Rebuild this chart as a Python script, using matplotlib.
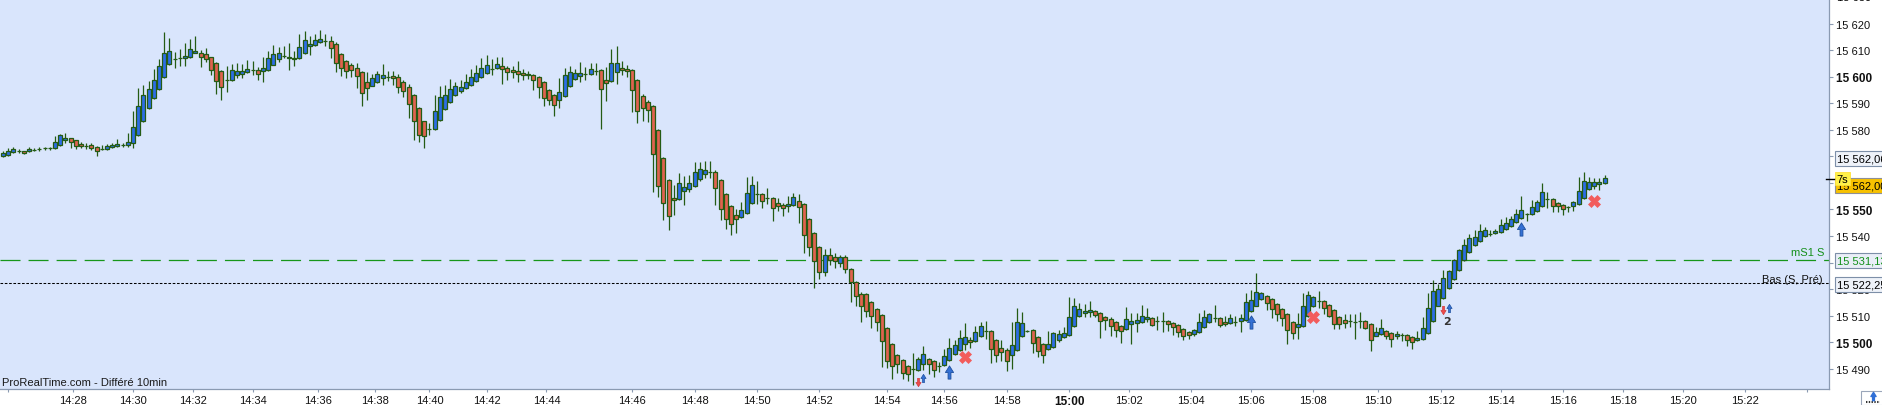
import numpy as np
import matplotlib.pyplot as plt
from matplotlib.path import Path
from matplotlib.patches import Rectangle

plt.rcParams['lines.scale_dashes'] = False

# OHLC of each bar (DAX-style index, tick bars)
opens = [
    15570.0, 15570.7, 15571.5, 15572.1, 15571.9, 15571.9, 15572.4, 15572.8, 15573.0, 15573.0,
    15573.0, 15574.1, 15576.0, 15576.8, 15576.0, 15574.8, 15574.0, 15574.1, 15573.4, 15572.9,
    15572.8, 15573.4, 15573.8, 15574.3, 15574.1, 15574.9, 15577.9, 15583.2, 15588.1, 15591.8,
    15595.2, 15599.7, 15604.6, 15606.6, 15606.9, 15606.9, 15607.4, 15608.8, 15609.1, 15608.4,
    15607.3, 15605.0, 15602.0, 15598.9, 15598.6, 15600.5, 15601.2, 15601.6, 15602.5, 15602.7,
    15602.0, 15602.4, 15604.5, 15606.5, 15607.9, 15607.5, 15607.1, 15606.9, 15608.8, 15611.4,
    15611.9, 15612.9, 15613.4, 15613.3, 15612.2, 15608.4, 15605.8, 15604.3, 15603.1, 15601.6,
    15597.9, 15596.6, 15597.9, 15599.4, 15600.0, 15600.1, 15599.7, 15597.9, 15596.3, 15593.0,
    15588.1, 15583.2, 15580.2, 15580.2, 15583.6, 15587.7, 15590.4, 15593.0, 15594.7, 15595.6,
    15596.8, 15598.3, 15599.8, 15601.3, 15603.0, 15603.2, 15603.9, 15603.2, 15602.4, 15602.0,
    15601.3, 15600.9, 15600.5, 15599.8, 15597.9, 15594.9, 15593.0, 15591.1, 15592.6, 15596.4,
    15599.0, 15600.1, 15600.9, 15600.9, 15602.2, 15602.4, 15598.6, 15598.3, 15601.7, 15603.2,
    15602.8, 15602.4, 15598.6, 15592.6, 15590.4, 15588.9, 15579.8, 15569.3, 15561.0, 15554.2,
    15553.8, 15556.8, 15557.6, 15558.7, 15561.4, 15563.2, 15564.3, 15564.0, 15561.0, 15555.7,
    15551.2, 15547.8, 15547.1, 15548.6, 15552.3, 15555.7, 15555.7, 15554.2, 15554.2, 15552.3,
    15551.6, 15551.2, 15551.6, 15553.1, 15551.9, 15546.3, 15541.0, 15535.8, 15526.5, 15533.0,
    15532.0, 15530.0, 15532.0, 15527.6, 15522.6, 15518.2, 15518.1, 15515.1, 15512.4, 15510.2,
    15505.3, 15499.2, 15495.1, 15493.2, 15491.0, 15489.8, 15489.4, 15491.7, 15493.6, 15492.8,
    15491.2, 15491.3, 15493.2, 15495.5, 15497.0, 15499.2, 15500.7, 15500.4, 15502.2, 15504.1,
    15504.1, 15500.7, 15497.7, 15497.0, 15495.1, 15497.0, 15502.2, 15504.3, 15504.5, 15501.9,
    15499.2, 15497.4, 15498.1, 15500.7, 15501.9, 15502.6, 15506.0, 15509.8, 15510.9, 15511.3,
    15511.7, 15510.9, 15509.4, 15508.7, 15507.5, 15506.0, 15504.9, 15506.8, 15507.1, 15507.5,
    15508.7, 15509.0, 15507.9, 15507.9, 15507.9, 15507.1, 15506.4, 15504.9, 15503.8, 15503.0,
    15503.8, 15505.6, 15507.5, 15509.0, 15509.0, 15507.5, 15507.1, 15507.8, 15507.9, 15508.3,
    15511.6, 15513.8, 15516.2, 15517.3, 15516.2, 15514.3, 15512.4, 15510.5, 15507.5, 15505.6,
    15506.0, 15509.8, 15513.5, 15515.4, 15515.4, 15513.9, 15512.0, 15509.4, 15508.3, 15507.9,
    15507.8, 15507.9, 15507.9, 15506.8, 15502.2, 15503.0, 15504.1, 15503.4, 15502.2, 15502.9,
    15502.6, 15501.9, 15500.7, 15501.1, 15503.4, 15507.9, 15513.5, 15516.5, 15520.3, 15523.7,
    15527.1, 15530.8, 15533.9, 15536.5, 15538.0, 15539.9, 15540.9, 15541.0, 15541.4, 15542.5,
    15543.6, 15545.2, 15546.7, 15548.2, 15548.2, 15549.3, 15551.2, 15553.8, 15553.8, 15552.3,
    15551.6, 15550.8, 15551.2, 15551.9, 15554.2, 15557.6, 15558.7, 15559.5, 15559.8,
]
highs = [
    15572.1, 15573.0, 15573.4, 15572.7, 15572.1, 15573.4, 15573.0, 15573.5, 15573.6, 15573.5,
    15577.5, 15578.4, 15578.7, 15577.1, 15576.0, 15575.5, 15575.0, 15574.9, 15574.0, 15574.3,
    15574.6, 15575.0, 15576.5, 15575.0, 15578.8, 15587.1, 15595.7, 15596.9, 15598.4, 15602.9,
    15606.6, 15616.7, 15614.5, 15609.4, 15610.4, 15612.7, 15614.2, 15615.2, 15610.0, 15610.7,
    15607.6, 15605.6, 15602.6, 15604.1, 15604.9, 15605.1, 15604.8, 15606.1, 15605.8, 15603.8,
    15607.6, 15609.8, 15611.9, 15611.2, 15611.4, 15612.7, 15609.6, 15616.1, 15617.1, 15615.2,
    15616.2, 15617.6, 15616.1, 15615.2, 15612.9, 15609.1, 15606.4, 15605.0, 15605.1, 15602.2,
    15601.6, 15601.0, 15602.2, 15604.6, 15602.1, 15602.1, 15601.0, 15598.7, 15597.2, 15593.5,
    15588.5, 15583.5, 15582.6, 15593.1, 15596.5, 15596.8, 15599.0, 15598.1, 15598.6, 15600.9,
    15602.8, 15604.3, 15607.0, 15608.2, 15606.7, 15607.4, 15607.4, 15603.9, 15603.9, 15605.9,
    15602.8, 15602.0, 15600.9, 15600.1, 15598.3, 15595.2, 15593.4, 15599.4, 15603.3, 15603.9,
    15602.8, 15605.5, 15603.5, 15605.2, 15605.2, 15602.8, 15603.5, 15610.4, 15611.6, 15605.8,
    15604.3, 15602.8, 15599.0, 15593.4, 15591.1, 15589.2, 15580.2, 15569.6, 15561.4, 15559.4,
    15563.6, 15562.5, 15562.9, 15567.8, 15567.8, 15568.1, 15568.1, 15564.8, 15561.4, 15556.1,
    15551.6, 15550.1, 15552.7, 15562.1, 15562.6, 15560.6, 15556.1, 15558.0, 15554.6, 15554.2,
    15552.3, 15555.0, 15556.1, 15555.7, 15552.3, 15546.7, 15541.4, 15536.1, 15535.0, 15535.5,
    15533.5, 15533.0, 15533.0, 15528.0, 15523.0, 15519.0, 15518.4, 15515.4, 15512.8, 15510.6,
    15505.7, 15499.6, 15495.5, 15493.6, 15491.4, 15496.0, 15494.3, 15498.5, 15494.0, 15493.2,
    15492.5, 15497.4, 15501.5, 15500.7, 15504.5, 15507.3, 15501.9, 15506.0, 15507.5, 15507.9,
    15504.5, 15501.1, 15500.7, 15497.7, 15507.5, 15512.8, 15511.3, 15504.5, 15504.9, 15502.2,
    15499.6, 15504.3, 15503.8, 15504.5, 15505.6, 15517.1, 15516.6, 15514.7, 15514.3, 15515.4,
    15512.0, 15511.3, 15509.8, 15509.4, 15507.9, 15506.4, 15513.2, 15510.9, 15510.9, 15514.0,
    15512.8, 15509.4, 15510.0, 15511.3, 15508.3, 15507.5, 15506.8, 15505.3, 15504.1, 15504.9,
    15510.9, 15512.0, 15510.9, 15513.9, 15509.4, 15509.8, 15510.5, 15510.0, 15510.5, 15518.4,
    15519.6, 15526.1, 15518.8, 15517.7, 15516.5, 15514.7, 15512.8, 15510.9, 15507.9, 15511.1,
    15518.4, 15519.2, 15517.3, 15519.2, 15515.8, 15514.3, 15512.4, 15509.8, 15510.5, 15510.5,
    15510.5, 15511.3, 15508.3, 15507.1, 15505.6, 15508.6, 15504.5, 15503.7, 15504.1, 15503.4,
    15503.0, 15502.2, 15504.1, 15509.4, 15518.4, 15523.3, 15521.8, 15527.1, 15527.1, 15531.2,
    15535.0, 15538.8, 15540.6, 15542.1, 15544.4, 15543.3, 15542.1, 15542.5, 15546.3, 15547.0,
    15547.4, 15550.0, 15554.9, 15548.6, 15553.4, 15553.4, 15559.8, 15556.5, 15554.2, 15552.7,
    15551.9, 15551.2, 15553.1, 15562.1, 15564.0, 15562.1, 15561.7, 15561.7, 15563.0,
]
lows = [
    15569.6, 15570.2, 15571.1, 15571.3, 15571.0, 15571.7, 15572.0, 15571.9, 15572.3, 15572.3,
    15572.9, 15573.9, 15575.0, 15573.3, 15572.8, 15573.3, 15572.8, 15572.4, 15570.2, 15572.4,
    15572.4, 15573.1, 15573.5, 15573.5, 15573.6, 15573.0, 15577.7, 15582.9, 15587.8, 15591.6,
    15595.1, 15599.5, 15604.5, 15603.1, 15604.1, 15603.9, 15607.0, 15608.8, 15603.8, 15605.4,
    15600.7, 15593.6, 15591.3, 15594.3, 15598.4, 15599.6, 15599.5, 15601.4, 15600.7, 15598.9,
    15598.1, 15602.2, 15604.4, 15605.6, 15607.1, 15602.6, 15604.1, 15606.6, 15608.4, 15608.1,
    15611.7, 15612.7, 15611.4, 15606.9, 15601.9, 15600.4, 15599.5, 15599.7, 15595.7, 15589.1,
    15591.2, 15596.5, 15597.6, 15597.0, 15598.4, 15597.0, 15593.7, 15592.2, 15584.3, 15576.3,
    15575.4, 15573.3, 15578.1, 15580.1, 15583.3, 15587.5, 15590.2, 15592.9, 15593.9, 15595.4,
    15596.6, 15598.1, 15599.5, 15600.9, 15600.6, 15602.9, 15597.3, 15598.8, 15599.5, 15598.0,
    15598.9, 15599.1, 15595.0, 15592.0, 15589.1, 15589.5, 15585.3, 15588.3, 15592.5, 15596.1,
    15598.9, 15598.1, 15598.9, 15600.6, 15600.6, 15580.4, 15591.0, 15598.1, 15597.4, 15600.5,
    15599.8, 15586.8, 15582.7, 15583.5, 15583.1, 15556.7, 15554.8, 15546.2, 15542.4, 15548.1,
    15553.7, 15551.6, 15556.7, 15558.6, 15560.9, 15561.7, 15561.7, 15551.8, 15546.2, 15542.8,
    15540.5, 15541.3, 15546.9, 15548.4, 15552.2, 15551.9, 15550.4, 15551.9, 15545.8, 15549.3,
    15547.4, 15548.9, 15551.5, 15545.0, 15533.5, 15532.4, 15520.3, 15524.0, 15525.0, 15529.0,
    15528.0, 15528.5, 15526.0, 15515.3, 15513.8, 15507.8, 15509.4, 15505.3, 15504.4, 15490.8,
    15490.3, 15486.2, 15488.3, 15486.1, 15485.3, 15483.8, 15489.3, 15489.7, 15487.9, 15486.8,
    15488.7, 15491.0, 15492.8, 15495.2, 15496.9, 15497.1, 15497.7, 15500.2, 15502.0, 15501.2,
    15492.1, 15492.5, 15493.1, 15489.1, 15489.8, 15496.9, 15502.1, 15503.8, 15495.8, 15494.3,
    15492.1, 15497.2, 15498.0, 15500.0, 15501.7, 15502.5, 15505.9, 15509.7, 15509.4, 15509.4,
    15509.4, 15501.5, 15504.6, 15502.2, 15501.9, 15499.6, 15504.6, 15499.2, 15504.0, 15507.3,
    15507.5, 15506.0, 15504.5, 15503.8, 15504.1, 15502.6, 15501.9, 15500.7, 15501.1, 15502.2,
    15503.5, 15505.5, 15507.4, 15507.8, 15505.6, 15506.3, 15507.0, 15506.0, 15503.7, 15507.9,
    15511.3, 15513.7, 15515.8, 15512.0, 15509.0, 15507.9, 15506.0, 15499.2, 15501.1, 15501.1,
    15505.9, 15509.6, 15513.2, 15512.8, 15510.5, 15509.4, 15504.9, 15504.9, 15505.2, 15505.6,
    15501.1, 15505.2, 15504.9, 15496.6, 15502.2, 15502.9, 15501.1, 15498.1, 15501.1, 15500.4,
    15498.5, 15497.3, 15500.5, 15501.0, 15503.2, 15507.8, 15513.5, 15516.4, 15520.2, 15523.6,
    15527.0, 15530.7, 15533.7, 15536.4, 15537.9, 15539.8, 15539.9, 15540.9, 15541.3, 15542.4,
    15543.5, 15545.0, 15546.5, 15545.7, 15548.0, 15549.2, 15551.1, 15550.4, 15548.9, 15548.9,
    15547.8, 15548.9, 15549.3, 15551.8, 15554.1, 15557.5, 15557.6, 15557.2, 15559.7,
]
closes = [
    15571.1, 15572.2, 15572.6, 15572.1, 15571.4, 15572.6, 15572.4, 15572.8, 15573.0, 15573.0,
    15575.6, 15577.9, 15577.1, 15575.3, 15573.8, 15573.8, 15574.0, 15573.0, 15571.9, 15572.9,
    15573.8, 15574.3, 15574.6, 15574.3, 15575.6, 15580.9, 15588.8, 15593.0, 15595.2, 15598.6,
    15603.9, 15609.1, 15609.5, 15606.6, 15606.9, 15607.9, 15610.3, 15609.5, 15607.6, 15606.5,
    15602.7, 15598.5, 15596.0, 15598.9, 15602.4, 15602.0, 15602.0, 15603.0, 15602.5, 15601.2,
    15603.1, 15606.9, 15608.4, 15609.1, 15607.9, 15606.9, 15606.5, 15611.0, 15613.9, 15612.3,
    15613.7, 15614.2, 15613.4, 15610.7, 15605.0, 15603.1, 15602.2, 15602.4, 15600.1, 15593.7,
    15595.6, 15599.4, 15600.9, 15600.5, 15600.0, 15599.4, 15596.0, 15594.5, 15589.9, 15583.2,
    15577.9, 15577.6, 15580.2, 15587.0, 15592.2, 15593.0, 15595.2, 15596.4, 15596.3, 15597.9,
    15599.8, 15601.3, 15603.2, 15604.3, 15603.0, 15604.7, 15602.8, 15601.7, 15601.7, 15600.9,
    15600.5, 15600.5, 15598.6, 15596.0, 15591.9, 15591.1, 15589.2, 15594.1, 15600.5, 15601.7,
    15601.3, 15601.3, 15600.9, 15602.8, 15602.2, 15595.2, 15597.5, 15605.0, 15605.0, 15602.4,
    15602.0, 15594.9, 15587.0, 15588.1, 15587.3, 15570.8, 15558.7, 15552.3, 15547.4, 15553.5,
    15559.9, 15558.3, 15559.9, 15564.0, 15565.1, 15564.8, 15564.3, 15558.0, 15550.1, 15546.3,
    15544.4, 15546.3, 15549.7, 15556.1, 15559.1, 15555.7, 15553.1, 15554.2, 15550.4, 15551.2,
    15550.4, 15551.9, 15554.6, 15550.8, 15540.3, 15535.8, 15530.5, 15526.3, 15533.0, 15531.0,
    15530.5, 15532.0, 15527.6, 15522.6, 15517.3, 15513.5, 15511.8, 15509.8, 15507.5, 15500.4,
    15492.8, 15491.0, 15491.7, 15488.3, 15487.9, 15489.8, 15493.6, 15495.5, 15491.7, 15489.4,
    15491.2, 15494.7, 15497.7, 15498.9, 15501.5, 15501.9, 15500.0, 15503.8, 15506.0, 15504.1,
    15497.4, 15495.1, 15496.2, 15492.8, 15498.9, 15507.5, 15507.1, 15504.3, 15499.6, 15496.6,
    15495.1, 15499.2, 15503.4, 15503.0, 15503.4, 15509.4, 15513.5, 15512.4, 15511.7, 15512.0,
    15510.2, 15507.9, 15508.3, 15506.0, 15504.5, 15504.1, 15508.7, 15507.9, 15508.3, 15509.8,
    15509.4, 15506.4, 15507.9, 15507.9, 15506.8, 15505.6, 15503.8, 15502.2, 15502.6, 15504.5,
    15507.5, 15509.4, 15510.5, 15509.0, 15506.4, 15506.8, 15509.0, 15507.8, 15509.0, 15515.0,
    15515.8, 15518.8, 15518.4, 15514.7, 15512.4, 15510.5, 15509.0, 15504.5, 15503.4, 15506.8,
    15513.5, 15517.7, 15516.9, 15515.4, 15512.8, 15509.8, 15506.8, 15506.8, 15507.1, 15507.9,
    15507.8, 15507.9, 15505.2, 15500.7, 15503.7, 15505.2, 15502.2, 15501.1, 15503.0, 15502.9,
    15500.7, 15500.0, 15501.5, 15505.2, 15512.8, 15519.2, 15519.9, 15524.1, 15526.7, 15530.8,
    15534.6, 15536.5, 15539.1, 15539.5, 15541.8, 15542.1, 15540.9, 15541.8, 15544.0, 15544.8,
    15546.3, 15548.2, 15549.7, 15548.2, 15550.8, 15552.7, 15556.5, 15553.8, 15551.2, 15551.2,
    15550.0, 15550.8, 15552.7, 15556.8, 15560.6, 15560.2, 15560.2, 15560.2, 15562.0,
]

# time axis labels and the bar index where each one falls
time_labels = ['14:26', '14:28', '14:30', '14:32', '14:34', '14:36', '14:38', '14:40', '14:42',
               '14:44', '14:46', '14:48', '14:50', '14:52', '14:54', '14:56', '14:58', '15:00',
               '15:02', '15:04', '15:06', '15:08', '15:10', '15:12', '15:14', '15:16', '15:18',
               '15:20', '15:22', '15:24']
time_bars = [1, 13.5, 25, 36.5, 48, 60.5, 71.5, 82, 93, 104.5, 121, 133, 145, 157, 170, 181,
             193, 205, 216.5, 228.5, 240, 252, 264.5, 276.5, 288, 300, 311.5, 323, 335, 347]

# price levels
price_ticks = list(range(15490, 15621, 10))
bold_ticks = [15500, 15550, 15600]
mS1 = 15531.13
bas_pre = 15522.25
last_price = 15562.00
prev_price = 15562.06

# signal markers: (bar, price)
buy_big = [(182, 15489.0), (240, 15507.6), (292, 15542.7)]
buy_small = [(177, 15486.5), (278, 15513.0)]
sell_small = [(176, 15485.0), (277, 15512.0)]
exits = [(185, 15494.5), (252, 15509.5), (306, 15553.2)]

BLUE = '#2d6de6'
RED = '#e0634f'
EDGE = '#245b14'
BG = '#d9e5fc'

W, H = 1882, 406
fig = plt.figure(figsize=(W / 100, H / 100), dpi=100)
ax = fig.add_axes([0, 16 / H, 1829 / W, 390 / H])
ax.set_facecolor(BG)

o = np.array(opens)
h = np.array(highs)
l = np.array(lows)
c = np.array(closes)
x = np.arange(len(o))
up = c >= o

ax.vlines(x, l, h, color=EDGE, lw=0.9, zorder=2)
ax.bar(x, np.abs(c - o), bottom=np.minimum(o, c), width=0.74,
       color=np.where(up, BLUE, RED), edgecolor=EDGE, linewidth=0.9, zorder=3)

ax.axhline(mS1, color='#17961a', lw=0.9, dashes=(14.4, 5.8), zorder=1.5)
ax.axhline(bas_pre, color='black', lw=0.75, dashes=(1.9, 1.2), zorder=1.5)

# arrows
arrow_up = Path([(-0.22, -1), (0.22, -1), (0.22, 0), (0.62, 0), (0, 1), (-0.62, 0),
                 (-0.22, 0), (-0.22, -1)], closed=True)
arrow_down = Path([(px, -py) for px, py in arrow_up.vertices], closed=True)
bx, by = zip(*buy_big)
ax.plot(bx, by, ls='none', marker=arrow_up, ms=9.5, mfc='#3470d4', mec='#1d4f9e', mew=0.6, zorder=5)
bx, by = zip(*buy_small)
ax.plot(bx, by, ls='none', marker=arrow_up, ms=6.0, mfc='#3470d4', mec='#1d4f9e', mew=0.5, zorder=5)
bx, by = zip(*sell_small)
ax.plot(bx, by, ls='none', marker=arrow_down, ms=6.0, mfc='#ee4b4b', mec='#d23a3a', mew=0.5, zorder=5)
bx, by = zip(*exits)
ax.plot(bx, by, ls='none', marker='X', ms=8, mfc='#f25c5c', mec='#f25c5c', mew=0.5, zorder=5)
ax.text(277.7, 15508.2, '2', fontsize=8, fontweight='bold', color='#333333',
        ha='center', va='center', zorder=5)

ax.set_xlim(-0.58, 351.15)
ax.set_ylim(15482.42, 15629.25)

for s in ['top', 'left']:
    ax.spines[s].set_visible(False)
for s in ['right', 'bottom']:
    ax.spines[s].set_color('#8a9ab2')
    ax.spines[s].set_linewidth(0.9)

ax.yaxis.tick_right()
ax.set_yticks(price_ticks)
ax.set_yticklabels([f'{v:,}'.replace(',', ' ') for v in price_ticks])
ax.tick_params(axis='y', length=3, width=0.8, color='#8a9ab2', pad=2, labelsize=8, labelcolor='#111111')
for lab, v in zip(ax.get_yticklabels(), price_ticks):
    lab.set_fontfamily(['Liberation Sans', 'DejaVu Sans'])
    if v in bold_ticks:
        lab.set_fontweight('bold')
        lab.set_fontsize(8.5)
ax.text(1.0042, 15630, '15 630', transform=ax.get_yaxis_transform(), fontsize=8,
        family=['Liberation Sans', 'DejaVu Sans'], va='center', ha='left', clip_on=False)

ax.set_xticks(time_bars)
ax.set_xticklabels([t if 0 < i < len(time_labels) - 1 else '' for i, t in enumerate(time_labels)])
ax.tick_params(axis='x', length=2.5, width=0.8, color='#8a9ab2', pad=1.5, labelsize=8, labelcolor='#111111')
for lab, t in zip(ax.get_xticklabels(), time_labels):
    lab.set_fontfamily(['Liberation Sans Narrow', 'Liberation Sans', 'DejaVu Sans'])
    if t == '15:00':
        lab.set_fontweight('bold')
        lab.set_fontsize(8.5)


def fmt(v):
    return f'{v:,.2f}'.replace(',', ' ').replace('.', ',')


tr = ax.get_yaxis_transform()
xl = 1837 / 1829
box_font = ['Liberation Sans', 'DejaVu Sans']
ax.text(xl, prev_price + 7.3, fmt(prev_price), transform=tr, fontsize=8, family=box_font,
        va='center', ha='left', clip_on=False, zorder=6,
        bbox=dict(boxstyle='square,pad=0.22', fc='#eef2f9', ec='#7d8fa8', lw=0.8))
ax.text(xl, last_price - 2.8, fmt(last_price), transform=tr, fontsize=8, family=box_font,
        va='center', ha='left', clip_on=False, zorder=6,
        bbox=dict(boxstyle='square,pad=0.22', fc='#f7c100', ec='#8d8f96', lw=0.8))
ax.text(xl - 0.0003, last_price - 0.4, '7s', transform=tr, fontsize=8, family=box_font,
        va='center', ha='left', clip_on=False, zorder=7,
        bbox=dict(boxstyle='square,pad=0.15', fc='#fff14a', ec='#ffe13a', lw=0.6))
ax.plot([0.9985, 1.003], [last_price - 0.5] * 2, transform=tr, color='black', lw=1.0,
        clip_on=False, zorder=7)
ax.text(xl, mS1 - 0.4, fmt(mS1), transform=tr, fontsize=8, family=box_font, color='#14901a',
        va='center', ha='left', clip_on=False, zorder=6,
        bbox=dict(boxstyle='square,pad=0.22', fc='#e9eef7', ec='#7d8fa8', lw=0.8))
ax.text(xl, bas_pre - 0.6, fmt(bas_pre), transform=tr, fontsize=8, family=box_font,
        va='center', ha='left', clip_on=False, zorder=6,
        bbox=dict(boxstyle='square,pad=0.22', fc='#eef2f9', ec='#7d8fa8', lw=0.8))

ax.text(1824 / 1829, mS1 + 2.7, 'mS1 S', transform=tr, fontsize=8, family=box_font,
        color='#14901a', ha='right', va='center', zorder=6)
ax.text(1823 / 1829, bas_pre + 1.6, 'Bas (S, Pré)', transform=tr, fontsize=8, family=box_font,
        color='#111111', ha='right', va='center', zorder=6)

ax.text(2 / 1829, 15485.1, 'ProRealTime.com - Différé 10min', transform=tr, fontsize=8,
        family=['Liberation Sans Narrow', 'Liberation Sans', 'DejaVu Sans'], color='#1a1a1a',
        ha='left', va='center', zorder=6)

# little button at the bottom right corner
fig.patches.append(Rectangle((1861 / W, 0), 24 / W, 14 / H, transform=fig.transFigure,
                             fc='white', ec='#9aa6ba', lw=0.8))
fig.lines.append(plt.Line2D([1866 / W, 1880 / W], [3 / H, 3 / H], transform=fig.transFigure,
                            color='#333333', lw=1.5, dashes=(1, 1)))
fig.lines.append(plt.Line2D([1873 / W], [9 / H], transform=fig.transFigure, marker=arrow_up,
                            ms=6, mfc='#2f6fd6', mec='#2f6fd6', ls='none'))

fig.savefig('out.png', dpi=100)
